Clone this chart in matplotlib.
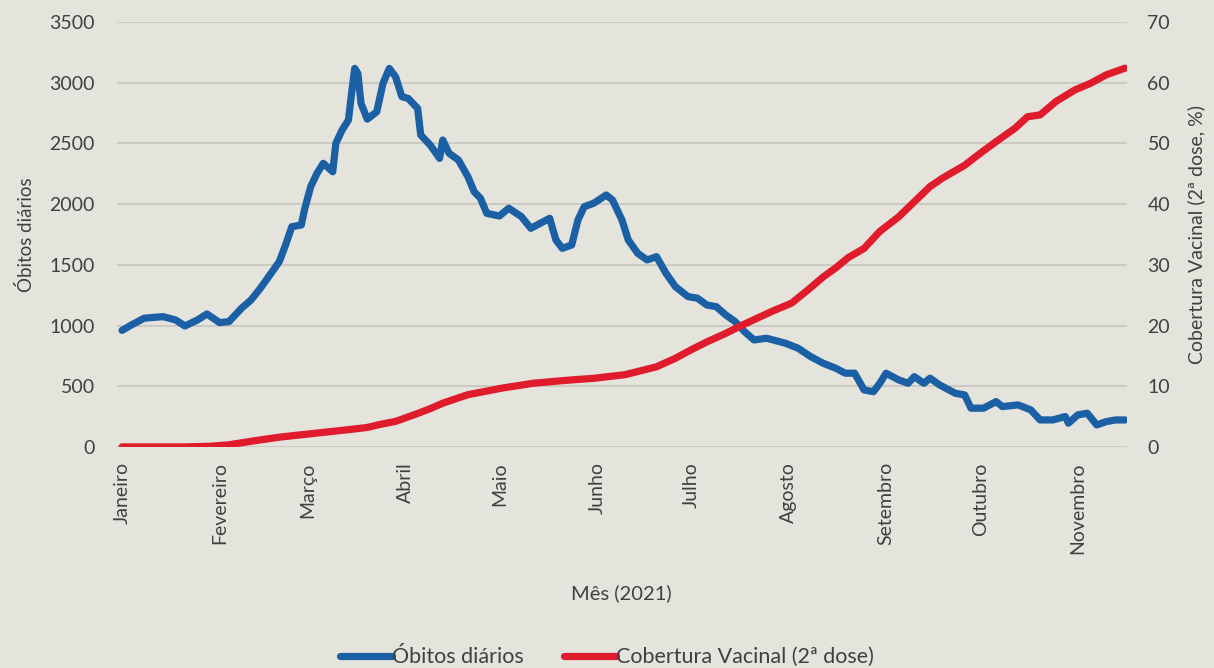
import matplotlib
matplotlib.use("Agg")
import matplotlib.pyplot as plt

# day of year (0 = 1 Jan 2021) and daily deaths
obitos_dias = [0, 3, 7, 13, 17, 20, 24, 27, 31, 34, 38, 41, 44, 47, 50, 52, 54, 57, 58, 60,
               62, 64, 67, 68, 70, 72, 73, 74, 75, 76, 78, 81, 83, 85, 87, 89, 91, 94, 95, 98,
               101, 102, 104, 107, 110, 112, 114, 116, 120, 123, 127, 130, 133, 136, 138, 140,
               143, 145, 147, 150, 154, 156, 159, 161, 164, 167, 170, 173, 176, 180, 183, 186,
               189, 192, 195, 198, 201, 205, 211, 215, 219, 223, 227, 230, 233, 236, 239, 241,
               243, 247, 250, 252, 255, 257, 260, 265, 268, 270, 274, 278, 280, 285, 289, 292,
               296, 300, 301, 304, 307, 310, 313, 316, 319]
obitos = [960, 1005, 1060, 1073, 1046, 996, 1046, 1095, 1024, 1032, 1142, 1210, 1307, 1416, 1526,
          1663, 1814, 1828, 1952, 2144, 2254, 2336, 2267, 2501, 2611, 2693, 2913, 3118, 3077,
          2830, 2700, 2761, 2995, 3118, 3049, 2885, 2871, 2789, 2569, 2487, 2377, 2528, 2419,
          2363, 2226, 2102, 2048, 1924, 1902, 1966, 1897, 1801, 1842, 1883, 1705, 1636, 1663,
          1869, 1979, 2007, 2075, 2034, 1869, 1705, 1595, 1540, 1567, 1430, 1320, 1238, 1225,
          1169, 1155, 1087, 1032, 949, 881, 895, 854, 813, 744, 689, 648, 607, 607, 469, 455,
          524, 607, 552, 524, 579, 524, 566, 511, 442, 428, 319, 319, 373, 332, 346, 305, 222,
          222, 250, 195, 264, 277, 181, 208, 222, 222]

# vaccination coverage, 2nd dose (%)
vacina_dias = [0, 10, 20, 28, 34, 42, 50, 57, 66, 73, 78, 82, 87, 94, 98, 102, 110, 121, 131,
               142, 150, 160, 170, 176, 181, 186, 192, 197, 202, 207, 213, 218, 223, 227, 231,
               236, 241, 247, 252, 257, 261, 268, 273, 278, 284, 288, 292, 297, 303, 308, 313,
               319]
vacina = [0.0, 0.0, 0.0, 0.1, 0.35, 1.0, 1.6, 2.0, 2.5, 2.9, 3.2, 3.7, 4.2, 5.5, 6.3, 7.2, 8.6,
          9.7, 10.5, 11.0, 11.3, 11.9, 13.2, 14.6, 16.0, 17.3, 18.7, 20.0, 21.2, 22.4, 23.7,
          25.8, 28.0, 29.5, 31.2, 32.7, 35.5, 37.9, 40.4, 42.9, 44.3, 46.4, 48.4, 50.3, 52.5,
          54.4, 54.7, 56.9, 58.8, 59.9, 61.3, 62.4]

meses_pos = [0, 31, 59, 90, 120, 151, 181, 212, 243, 273, 304]
meses = ["Janeiro", "Fevereiro", "Março", "Abril", "Maio", "Junho", "Julho",
         "Agosto", "Setembro", "Outubro", "Novembro"]

bg = "#e4e4dd"
txt = "#404040"
azul = "#1b5fa5"
vermelho = "#e01b2c"

plt.rcParams["font.family"] = ["Lato", "DejaVu Sans"]

fig = plt.figure(figsize=(12.14, 6.68), dpi=100, facecolor=bg)
ax = fig.add_axes([0.0964, 0.331, 0.8316, 0.636])
ax.set_facecolor(bg)
ax2 = ax.twinx()

l1, = ax.plot(obitos_dias, obitos, color=azul, lw=5.2, solid_capstyle="round",
              solid_joinstyle="round", label="Óbitos diários", zorder=3)
l2, = ax2.plot(vacina_dias, vacina, color=vermelho, lw=5.2, solid_capstyle="round",
               solid_joinstyle="round", label="Cobertura Vacinal (2ª dose)")

ax.set_xlim(-1.6, 319.5)
ax.set_ylim(0, 3500)
ax2.set_ylim(0, 70)
ax.set_yticks(range(0, 3501, 500))
ax2.set_yticks(range(0, 71, 10))
ax.grid(axis="y", color="#c9c9c2", lw=1.3)
ax.set_axisbelow(True)

ax.set_xticks(meses_pos)
ax.set_xticklabels(meses, rotation=90)

for a in (ax, ax2):
    for s in a.spines.values():
        s.set_visible(False)
    a.tick_params(length=0, labelsize=14, labelcolor=txt)
ax.tick_params(axis="y", pad=16)
ax2.tick_params(axis="y", pad=15)
ax.tick_params(axis="x", pad=11)

ax.set_ylabel("Óbitos diários", fontsize=13.5, color=txt, labelpad=10)
ax2.set_ylabel("Cobertura Vacinal (2ª dose, %)", fontsize=14, color=txt, labelpad=12)
ax.set_xlabel("Mês (2021)", fontsize=14.5, color=txt, labelpad=22)

fig.legend(handles=[l1, l2], loc="lower center", bbox_to_anchor=(0.5, -0.028), ncol=2,
           frameon=False, fontsize=15.5, labelcolor=txt, handlelength=2.4,
           handletextpad=0.0, columnspacing=1.9)

fig.savefig("out.png", dpi=100, facecolor=bg)
